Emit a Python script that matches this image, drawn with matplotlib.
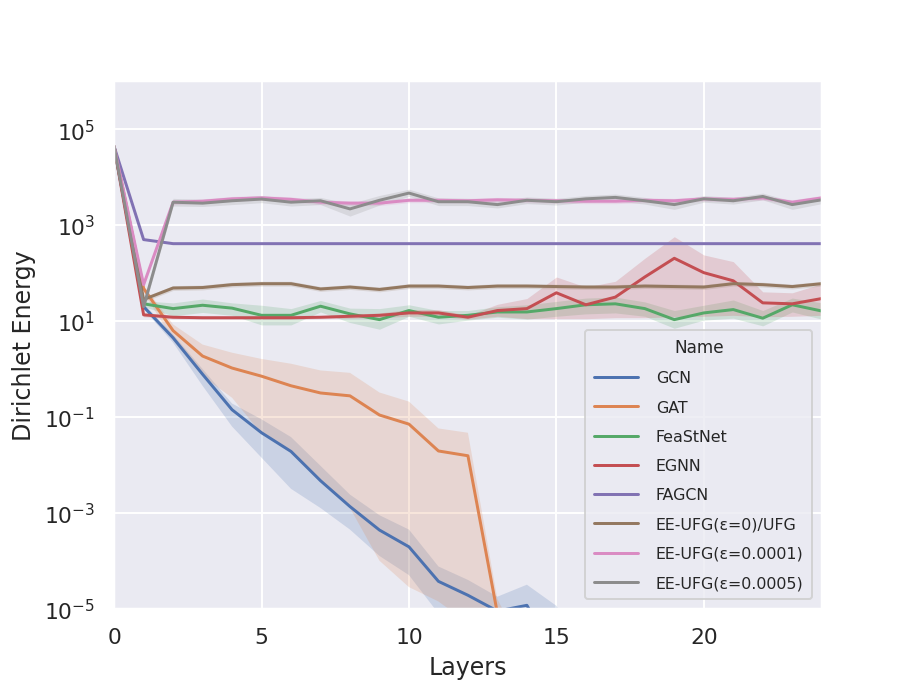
import numpy as np
import matplotlib
matplotlib.use("Agg")
import matplotlib.pyplot as plt
import seaborn as sns

sns.set_theme(style="darkgrid")

layers = list(range(25))

names = ["GCN", "GAT", "FeaStNet", "EGNN", "FAGCN",
         "EE-UFG(ε=0)/UFG", "EE-UFG(ε=0.0001)", "EE-UFG(ε=0.0005)"]

# log10 of Dirichlet energy: mean, lower, upper of the confidence band
gcn_mean = [4.64, 1.30, 0.65, -0.11, -0.85, -1.33, -1.72, -2.33, -2.87, -3.36, -3.71, -4.43, -4.72,
            -5.05, -4.93, -6.0, -6.5, -7.0, -7.5, -8.0, -8.5, -9.0, -9.5, -10.0, -10.5]
gcn_low = [4.60, 1.25, 0.55, -0.35, -1.20, -1.85, -2.50, -2.90, -3.35, -3.90, -4.30, -5.10, -5.50,
           -5.80, -5.80, -6.8, -7.3, -7.8, -8.3, -8.8, -9.3, -9.8, -10.3, -10.8, -11.3]
gcn_high = [4.68, 1.36, 0.72, 0.00, -0.72, -1.05, -1.42, -2.02, -2.62, -3.05, -3.35, -4.12, -4.40,
            -4.75, -4.50, -4.94, -6.0, -6.5, -7.0, -7.5, -8.0, -8.5, -9.0, -9.5, -10.0]

gat_mean = [4.64, 1.68, 0.80, 0.27, 0.02, -0.15, -0.35, -0.50, -0.56, -0.96, -1.15, -1.71, -1.81,
            -5.10, -7.0, -7.5, -8.0, -8.5, -9.0, -9.5, -10.0, -10.5, -11.0, -11.5, -12.0]
gat_low = [4.60, 1.60, 0.60, -0.15, -0.60, -1.35, -1.75, -2.30, -2.90, -4.00, -4.55, -4.85, -5.30,
           -7.0, -8.0, -8.5, -9.0, -9.5, -10.0, -10.5, -11.0, -11.5, -12.0, -12.5, -13.0]
gat_high = [4.68, 1.74, 0.93, 0.51, 0.34, 0.21, 0.11, -0.03, -0.08, -0.49, -0.68, -1.24, -1.33,
            -4.80, -6.0, -6.5, -7.0, -7.5, -8.0, -8.5, -9.0, -9.5, -10.0, -10.5, -11.0]

feast_mean = [4.64, 1.36, 1.26, 1.33, 1.27, 1.12, 1.12, 1.31, 1.15, 1.03, 1.22, 1.08, 1.12,
              1.19, 1.19, 1.26, 1.34, 1.36, 1.26, 1.03, 1.17, 1.24, 1.06, 1.34, 1.21]
feast_low = [4.60, 1.30, 1.11, 1.18, 1.12, 0.92, 0.92, 1.19, 0.97, 0.83, 1.10, 0.94, 1.02,
             1.08, 1.04, 1.10, 1.15, 1.17, 1.10, 0.85, 1.02, 1.06, 0.90, 1.19, 1.04]
feast_high = [4.68, 1.42, 1.38, 1.46, 1.38, 1.33, 1.26, 1.43, 1.27, 1.26, 1.34, 1.22, 1.22,
              1.30, 1.34, 1.41, 1.48, 1.50, 1.40, 1.22, 1.33, 1.44, 1.22, 1.48, 1.38]

egnn_mean = [4.64, 1.13, 1.08, 1.07, 1.07, 1.07, 1.07, 1.08, 1.10, 1.12, 1.17, 1.17, 1.08,
             1.22, 1.26, 1.59, 1.34, 1.50, 1.92, 2.31, 2.01, 1.84, 1.38, 1.36, 1.47]
egnn_low = [4.60, 1.09, 1.05, 1.04, 1.04, 1.04, 1.04, 1.05, 1.06, 1.07, 1.10, 1.10, 1.04,
            1.10, 1.05, 1.05, 1.05, 1.07, 1.07, 1.09, 1.10, 1.12, 1.09, 1.10, 1.12]
egnn_high = [4.68, 1.17, 1.11, 1.10, 1.10, 1.10, 1.10, 1.11, 1.14, 1.17, 1.24, 1.24, 1.12,
             1.35, 1.47, 1.92, 1.71, 1.83, 2.31, 2.76, 2.38, 2.24, 1.61, 1.59, 1.78]

fagcn_mean = [4.64, 2.70] + [2.615] * 23

ufg0_mean = [4.64, 1.45, 1.69, 1.70, 1.76, 1.78, 1.78, 1.67, 1.71, 1.66, 1.73, 1.73, 1.70,
             1.73, 1.73, 1.72, 1.71, 1.71, 1.73, 1.72, 1.71, 1.78, 1.76, 1.72, 1.78]
ufg0_low = [v - 0.05 for v in ufg0_mean]
ufg0_high = [v + 0.05 for v in ufg0_mean]

ufg1_mean = [4.64, 1.76, 3.48, 3.50, 3.55, 3.57, 3.54, 3.48, 3.46, 3.46, 3.52, 3.52, 3.51,
             3.53, 3.52, 3.51, 3.50, 3.50, 3.52, 3.51, 3.55, 3.54, 3.57, 3.48, 3.57]
ufg1_low = [v - 0.05 for v in ufg1_mean]
ufg1_high = [v + 0.05 for v in ufg1_mean]

ufg5_mean = [4.64, 1.30, 3.48, 3.46, 3.51, 3.545, 3.48, 3.51, 3.34, 3.52, 3.67, 3.49, 3.49,
             3.43, 3.52, 3.49, 3.55, 3.58, 3.51, 3.43, 3.55, 3.51, 3.60, 3.43, 3.53]
ufg5_low = [4.60, 1.22, 3.40, 3.39, 3.43, 3.47, 3.40, 3.43, 3.19, 3.42, 3.60, 3.41, 3.41,
            3.36, 3.45, 3.42, 3.48, 3.51, 3.44, 3.33, 3.48, 3.44, 3.53, 3.33, 3.45]
ufg5_high = [4.68, 1.38, 3.56, 3.54, 3.58, 3.62, 3.55, 3.58, 3.45, 3.62, 3.75, 3.57, 3.56,
             3.51, 3.59, 3.56, 3.62, 3.65, 3.58, 3.50, 3.62, 3.58, 3.67, 3.50, 3.60]

series = [
    (gcn_mean, gcn_low, gcn_high),
    (gat_mean, gat_low, gat_high),
    (feast_mean, feast_low, feast_high),
    (egnn_mean, egnn_low, egnn_high),
    (fagcn_mean, fagcn_mean, fagcn_mean),
    (ufg0_mean, ufg0_low, ufg0_high),
    (ufg1_mean, ufg1_low, ufg1_high),
    (ufg5_mean, ufg5_low, ufg5_high),
]

colors = sns.color_palette("deep", 8)

fig, ax = plt.subplots(figsize=(6.4, 4.8), dpi=142.66)
x = np.array(layers)
for name, (m, lo, hi), c in zip(names, series, colors):
    ax.fill_between(x, 10 ** np.array(lo), 10 ** np.array(hi), color=c, alpha=0.2, linewidth=0)
    ax.plot(x, 10 ** np.array(m), color=c, lw=1.5, label=name)

ax.set_yscale("log")
ax.set_ylim(1e-5, 1e6)
ax.set_xlim(0, 24)
ax.set_yticks([1e-5, 1e-3, 1e-1, 1e1, 1e3, 1e5])
ax.minorticks_off()
ax.set_xticks([0, 5, 10, 15, 20])
ax.set_xlabel("Layers")
ax.set_ylabel("Dirichlet Energy")
ax.legend(title="Name", loc="lower right", fontsize=8, title_fontsize=8.5,
          handlelength=2.8, handletextpad=1.1, labelspacing=0.9, borderpad=0.55,
          borderaxespad=0.6)

fig.savefig("out.png", dpi=142.66)
